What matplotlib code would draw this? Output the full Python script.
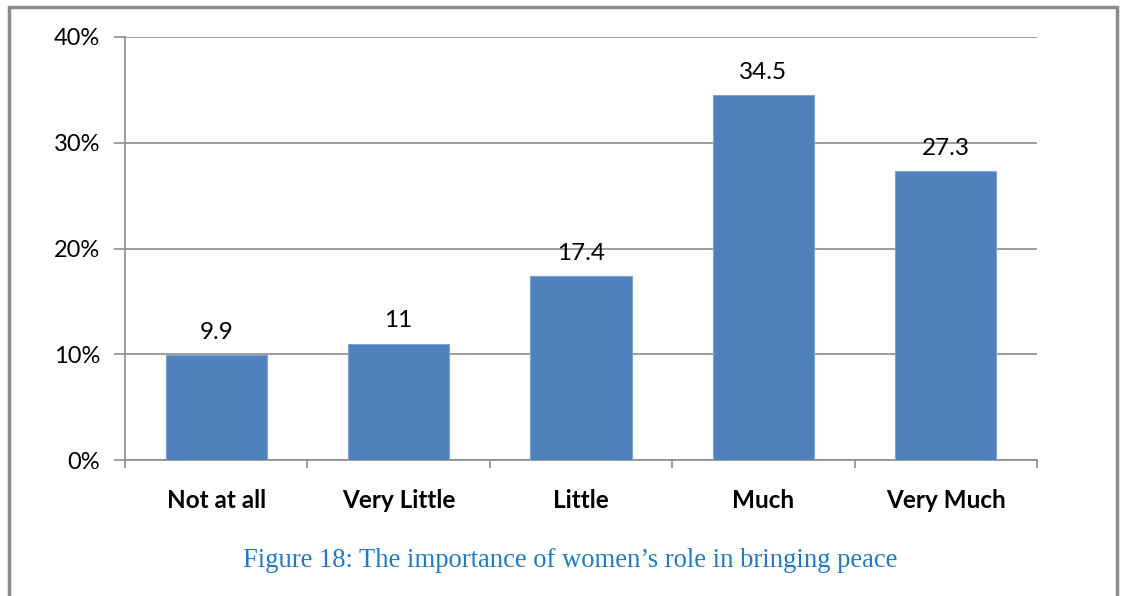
import matplotlib.pyplot as plt
from matplotlib.patches import Rectangle
from matplotlib.ticker import FuncFormatter

categories = ['Not at all', 'Very Little', 'Little', 'Much', 'Very Much']
values = [9.9, 11, 17.4, 34.5, 27.3]
value_labels = ['9.9', '11', '17.4', '34.5', '27.3']
caption = 'Figure 18: The importance of women\u2019s role in bringing peace'

plt.rcParams['font.family'] = ['Lato', 'DejaVu Sans']

fig = plt.figure(figsize=(11.21, 5.96), dpi=100)
ax = fig.add_axes([0.1115, 0.228, 0.8135, 0.710])

x = list(range(len(categories)))
ax.bar(x, values, width=0.555, color='#4F81BD', edgecolor='#7FA3D0', linewidth=0.8, zorder=3)

for xi, v, lab in zip(x, values, value_labels):
    ax.annotate(lab, (xi, v), xytext=(0, 9), textcoords='offset points',
                ha='center', va='bottom', fontsize=17.5, color='black')

ax.set_xlim(-0.5, len(categories) - 0.5)
ax.set_ylim(0, 40)
ax.set_yticks([0, 10, 20, 30, 40])
ax.yaxis.set_major_formatter(FuncFormatter(lambda v, p: f'{v:.0f}%'))
ax.grid(axis='y', color='#8C8C8C', linewidth=1.2, zorder=0)

ax.set_xticks([i - 0.5 for i in range(len(categories) + 1)], minor=True)
ax.set_xticks(x)
ax.set_xticklabels(categories, fontsize=17.5, fontweight='bold')
ax.tick_params(axis='x', which='major', length=0, pad=21)
ax.tick_params(axis='x', which='minor', length=6, width=1.2, color='#8C8C8C', direction='out')
ax.tick_params(axis='y', length=8, width=1.2, color='#8C8C8C', direction='out', labelsize=17, pad=10)

for s in ['top', 'right']:
    ax.spines[s].set_visible(False)
for s in ['left', 'bottom']:
    ax.spines[s].set_color('#8C8C8C')
    ax.spines[s].set_linewidth(1.2)

fig.text(0.509, 0.06, caption, ha='center', va='center', fontsize=19.2,
         family='Liberation Serif', color='#1F7BC8')

# outer frame
fig.patches.append(Rectangle((0.008, -0.02), 0.988, 1.008, transform=fig.transFigure,
                             fill=False, edgecolor='#8C8C8C', linewidth=2.5))

fig.savefig('out.png', dpi=100)
